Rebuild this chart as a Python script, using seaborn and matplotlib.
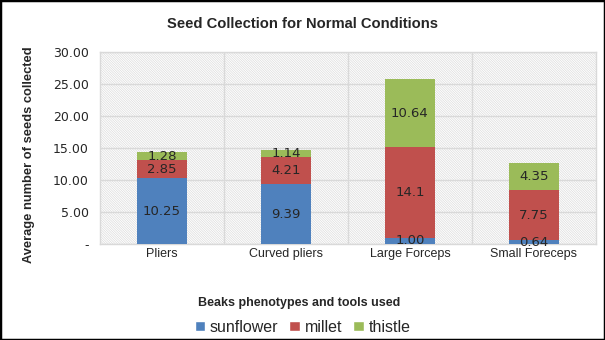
import matplotlib
matplotlib.use("Agg")
import matplotlib.pyplot as plt
import seaborn as sns
import numpy as np
from matplotlib.ticker import FuncFormatter, MultipleLocator
from matplotlib.patches import Patch, Rectangle

categories = ["Pliers", "Curved pliers", "Large Forceps", "Small Foreceps"]
sunflower = [10.25, 9.39, 1.00, 0.64]
millet = [2.85, 4.21, 14.1, 7.75]
thistle = [1.28, 1.14, 10.64, 4.35]
sunflower_labels = ["10.25", "9.39", "1.00", "0.64"]
millet_labels = ["2.85", "4.21", "14.1", "7.75"]
thistle_labels = ["1.28", "1.14", "10.64", "4.35"]

sns.set_style("white")
plt.rcParams["font.family"] = ["DejaVu Sans"]
plt.rcParams["hatch.linewidth"] = 0.5
plt.rcParams["hatch.color"] = "#dcdcdc"

fig = plt.figure(figsize=(6.05, 3.4), dpi=100)
ax = fig.add_axes([0.165, 0.282, 0.82, 0.565])

colors = {"sunflower": "#4F81BD", "millet": "#C0504D", "thistle": "#9BBB59"}
s = np.array(sunflower)
m = np.array(millet)
t = np.array(thistle)

kw = dict(width=0.4, saturation=1, ax=ax, zorder=3, linewidth=0, edgecolor="none")
sns.barplot(x=categories, y=sunflower, color=colors["sunflower"], **kw)
sns.barplot(x=categories, y=millet, bottom=s, color=colors["millet"], **kw)
sns.barplot(x=categories, y=thistle, bottom=s + m, color=colors["thistle"], **kw)

for i in range(len(categories)):
    ax.text(i, s[i] / 2, sunflower_labels[i], ha="center", va="center", fontsize=9.5, zorder=5)
    ax.text(i, s[i] + m[i] / 2, millet_labels[i], ha="center", va="center", fontsize=9.5, zorder=5)
    ax.text(i, s[i] + m[i] + t[i] / 2, thistle_labels[i], ha="center", va="center", fontsize=9.5, zorder=5)

ax.set_xlim(-0.5, 3.5)
ax.set_ylim(0, 30)
ax.yaxis.set_major_locator(MultipleLocator(5))
ax.yaxis.set_major_formatter(FuncFormatter(lambda v, p: "-" if abs(v) < 1e-9 else f"{v:.2f}"))

# hatched background
ax.patch.set_facecolor("white")
bg = Rectangle((0, 0), 1, 1, transform=ax.transAxes, facecolor="white",
               edgecolor="#dcdcdc", hatch="\\" * 14, linewidth=0, zorder=0)
ax.add_patch(bg)

ax.grid(axis="y", color="#d9d9d9", linewidth=1.0, zorder=1)
for xb in [0.5, 1.5, 2.5]:
    ax.axvline(xb, color="#d9d9d9", linewidth=1.0, zorder=1)
ax.set_axisbelow(True)
for sp in ax.spines.values():
    sp.set_color("#d9d9d9")
    sp.set_linewidth(1.0)

ax.tick_params(axis="y", labelsize=9, length=0, pad=8)
ax.tick_params(axis="x", length=0, pad=3)
for lab in ax.get_xticklabels():
    lab.set_fontfamily("Liberation Sans")
    lab.set_fontsize(9)

ax.set_xlabel("")
ax.set_ylabel("")
fig.text(0.5, 0.93, "Seed Collection for Normal Conditions", ha="center", va="center",
         fontsize=10.6, fontweight="bold", family="Liberation Sans")
fig.text(0.048, 0.545, "Average number of seeds collected", ha="center", va="center",
         rotation=90, fontsize=9.3, fontweight="bold", family="Liberation Sans")
fig.text(0.494, 0.108, "Beaks phenotypes and tools used", ha="center", va="center",
         fontsize=9, fontweight="bold", family="Liberation Sans")

handles = [Patch(facecolor=colors[k], label=k) for k in ["sunflower", "millet", "thistle"]]
leg = fig.legend(handles=handles, loc="center", bbox_to_anchor=(0.5, 0.038), ncol=3,
                 frameon=False, prop={"family": "Liberation Sans", "size": 11.5},
                 handlelength=0.65, handleheight=0.65, handletextpad=0.3, columnspacing=0.7,
                 borderaxespad=0)

border = Rectangle((0, 0), 1, 1, transform=fig.transFigure, fill=False,
                   edgecolor="black", linewidth=2.5)
fig.patches.append(border)

fig.savefig("out.png", dpi=100)
